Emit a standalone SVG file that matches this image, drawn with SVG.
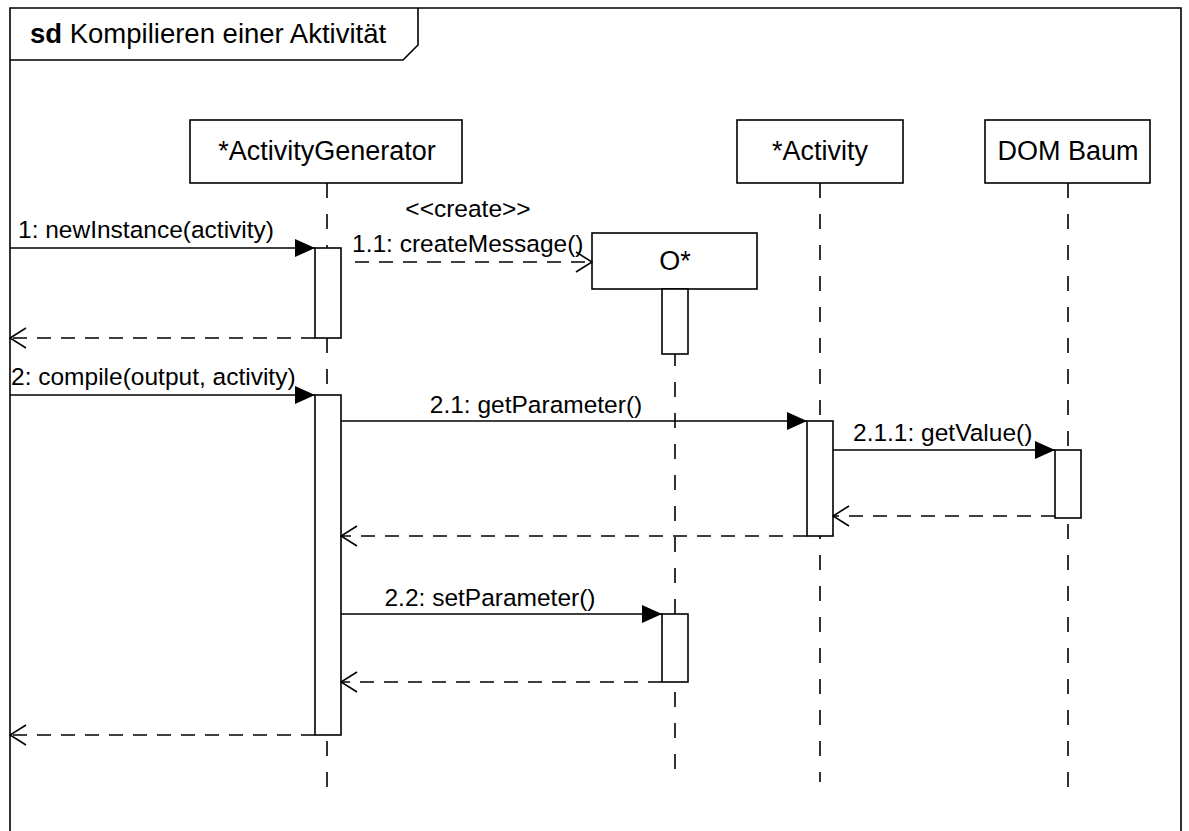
<svg xmlns="http://www.w3.org/2000/svg" width="1189" height="831" viewBox="0 0 1189 831">
<defs>
<style>
.box{fill:#fff;stroke:#000;stroke-width:1.6}
.act{fill:#fff;stroke:#000;stroke-width:1.6}
.life{stroke:#000;stroke-width:1.6;stroke-dasharray:15 16;fill:none}
.msg{stroke:#000;stroke-width:1.6;fill:none}
.ret{stroke:#000;stroke-width:1.6;fill:none;stroke-dasharray:14 10}
.name{font-family:"Liberation Sans",Arial,sans-serif;font-size:27px;fill:#000;text-anchor:middle}
.lbl{font-family:"Liberation Sans",Arial,sans-serif;font-size:24.5px;fill:#000}
.title{font-family:"Liberation Sans",Arial,sans-serif;font-size:27.5px;fill:#000}
</style>
<marker id="filled" viewBox="0 0 20 18" refX="20" refY="9" markerWidth="20" markerHeight="18" markerUnits="userSpaceOnUse" orient="auto">
<path d="M0,0 L20,9 L0,18 Z" fill="#000"/>
</marker>
<marker id="open" viewBox="0 0 18 22" refX="17" refY="11" markerWidth="18" markerHeight="22" markerUnits="userSpaceOnUse" orient="auto">
<path d="M1,1 L17,11 L1,21" fill="none" stroke="#000" stroke-width="1.6"/>
</marker>
</defs>
<rect width="1189" height="831" fill="#fff"/>
<g id="frame">
<path d="M10,840 V8 H1181 V840" fill="none" stroke="#000" stroke-width="1.6"/>
<path d="M10,60 H403 L418,45 V8" fill="none" stroke="#000" stroke-width="1.6"/>
<text class="title" x="30" y="43"><tspan font-weight="bold">sd</tspan> Kompilieren einer Aktivität</text>
</g>
<g id="lifelines">
<line class="life" x1="327" y1="183" x2="327" y2="792"/>
<line class="life" x1="675" y1="289" x2="675" y2="780"/>
<line class="life" x1="820" y1="183" x2="820" y2="782"/>
<line class="life" x1="1068" y1="183" x2="1068" y2="792"/>
</g>
<g id="ActivityGenerator">
<rect class="box" x="190" y="120" width="272" height="63"/>
<text class="name" x="327" y="160">*ActivityGenerator</text>
</g>
<g id="Activity">
<rect class="box" x="737" y="120" width="166" height="63"/>
<text class="name" x="820" y="160">*Activity</text>
</g>
<g id="DOMBaum">
<rect class="box" x="985" y="120" width="165" height="63"/>
<text class="name" x="1068" y="160">DOM Baum</text>
</g>
<g id="O">
<rect class="box" x="592" y="233" width="165" height="56"/>
<text class="name" x="675" y="270">O*</text>
</g>
<g id="activations">
<rect class="act" x="315" y="248" width="26" height="90"/>
<rect class="act" x="662" y="289" width="26" height="65"/>
<rect class="act" x="315" y="395" width="26" height="340"/>
<rect class="act" x="807" y="421" width="26" height="115"/>
<rect class="act" x="1055" y="450" width="26" height="68"/>
<rect class="act" x="662" y="614" width="26" height="68"/>
</g>
<g id="connectors">
<line class="msg" x1="10" y1="248" x2="315" y2="248" marker-end="url(#filled)"/>
<line class="ret" x1="315" y1="338" x2="10" y2="338" marker-end="url(#open)"/>
<line class="ret" x1="355" y1="262" x2="592" y2="262" marker-end="url(#open)"/>
<line class="msg" x1="10" y1="395" x2="315" y2="395" marker-end="url(#filled)"/>
<line class="msg" x1="341" y1="421" x2="807" y2="421" marker-end="url(#filled)"/>
<line class="msg" x1="833" y1="450" x2="1055" y2="450" marker-end="url(#filled)"/>
<line class="ret" x1="1055" y1="516" x2="833" y2="516" marker-end="url(#open)"/>
<line class="ret" x1="807" y1="536" x2="341" y2="536" marker-end="url(#open)"/>
<line class="msg" x1="341" y1="614" x2="662" y2="614" marker-end="url(#filled)"/>
<line class="ret" x1="662" y1="682" x2="341" y2="682" marker-end="url(#open)"/>
<line class="ret" x1="315" y1="735" x2="10" y2="735" marker-end="url(#open)"/>
<text class="lbl" x="18" y="238">1: newInstance(activity)</text>
<text class="lbl" x="468" y="217" text-anchor="middle" font-size="23.5">&lt;&lt;create&gt;&gt;</text>
<text class="lbl" x="352" y="252">1.1: createMessage()</text>
<text class="lbl" x="11" y="385">2: compile(output, activity)</text>
<text class="lbl" x="536" y="413" text-anchor="middle">2.1: getParameter()</text>
<text class="lbl" x="853" y="441">2.1.1: getValue()</text>
<text class="lbl" x="490" y="606" text-anchor="middle">2.2: setParameter()</text>
</g>
</svg>
